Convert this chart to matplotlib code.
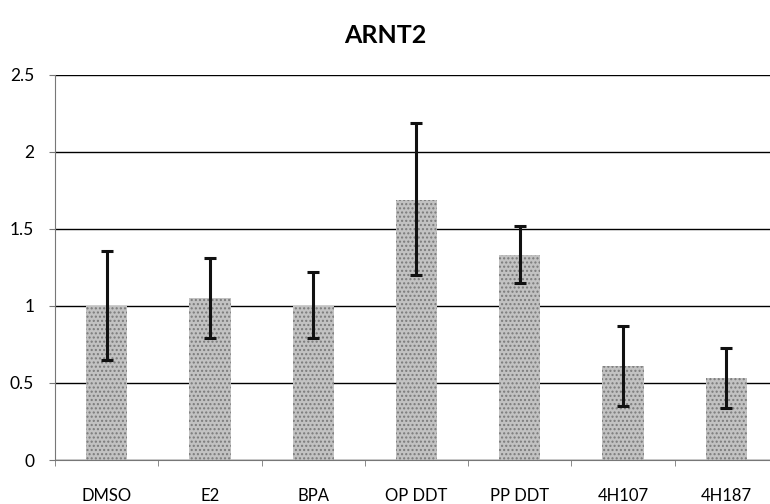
import matplotlib.pyplot as plt
import numpy as np

# Werte
groups = ["DMSO", "E2", "BPA", "OP DDT", "PP DDT", "4H107", "4H187"]
means = [1.0, 1.05, 1.0, 1.69, 1.33, 0.61, 0.53]
err_low = [0.65, 0.79, 0.79, 1.20, 1.15, 0.35, 0.34]
err_high = [1.36, 1.31, 1.22, 2.19, 1.52, 0.87, 0.73]

plt.rcParams['font.family'] = ['Lato', 'DejaVu Sans']

fig = plt.figure(figsize=(7.7, 5.04), dpi=100)
ax = fig.add_axes([0.0714, 0.0873, 0.939, 0.764])

x = np.arange(len(groups))
lower = np.array(means) - np.array(err_low)
upper = np.array(err_high) - np.array(means)

ax.set_axisbelow(True)
ax.yaxis.grid(True, color='black', linewidth=1.0)
ax.bar(x, means, width=0.4, color='#c2c2c2', edgecolor='#7a7a7a',
       hatch='....', linewidth=0, zorder=2)
ax.errorbar(x, means, yerr=[lower, upper], fmt='none', ecolor='#111111',
            elinewidth=2.2, capsize=4, capthick=2.2, zorder=3)

ax.set_xlim(-0.5, len(groups) - 0.5)
ax.set_ylim(0, 2.5)
ax.set_yticks([0, 0.5, 1, 1.5, 2, 2.5])
ax.set_yticklabels(['0', '0.5', '1', '1.5', '2', '2.5'], fontsize=12.5)
ax.set_xticks(x)
ax.set_xticklabels(groups, fontsize=12)
ax.set_xticks(np.arange(len(groups) + 1) - 0.5, minor=True)
ax.tick_params(axis='x', which='major', length=0, pad=20)
ax.tick_params(axis='x', which='minor', length=4, color='#777777')
ax.tick_params(axis='y', length=4, color='#777777', pad=11)

for s in ['top', 'right']:
    ax.spines[s].set_visible(False)
ax.spines['left'].set_color('#777777')
ax.spines['left'].set_linestyle((0, (4, 1)))
ax.spines['bottom'].set_color('#777777')

fig.text(0.5, 0.93, 'ARNT2', ha='center', va='center', fontsize=18, fontweight='bold')

plt.savefig('out.png')
